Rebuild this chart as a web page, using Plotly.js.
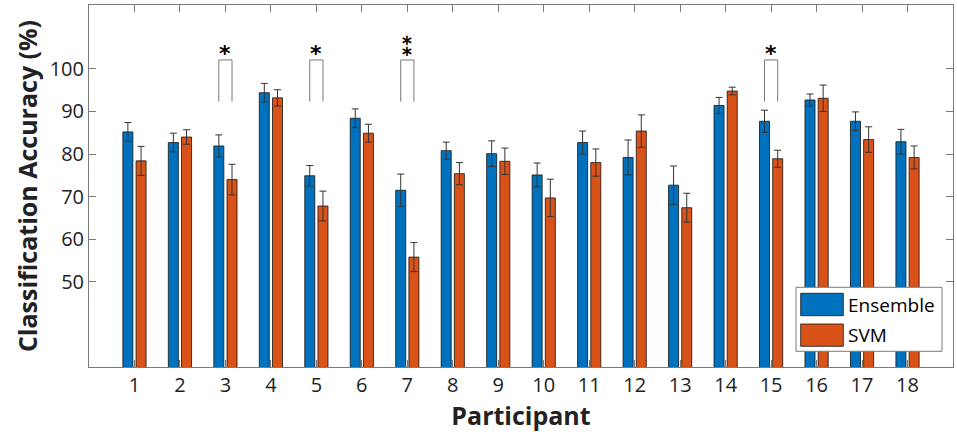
<!DOCTYPE html>
<html>
<head>
<meta charset="utf-8">
<script src="https://cdn.plot.ly/plotly-3.0.1.min.js"></script>
<style>html,body{margin:0;padding:0;background:#fff;}#chart{width:957px;height:444px;}</style>
</head>
<body>
<div id="chart"></div>
<script>
var participants = [1,2,3,4,5,6,7,8,9,10,11,12,13,14,15,16,17,18];
var ensembleAcc = [85.2,82.7,81.9,94.4,74.9,88.4,71.5,80.8,80.1,75.1,82.7,79.2,72.7,91.4,87.7,92.7,87.7,82.9];
var ensembleErr = [2.2,2.2,2.6,2.2,2.4,2.2,3.8,2.0,3.0,2.8,2.7,4.1,4.5,1.9,2.6,1.4,2.2,2.9];
var svmAcc = [78.4,84.0,74.0,93.2,67.8,84.9,55.8,75.4,78.3,69.7,78.0,85.4,67.4,94.8,78.9,93.1,83.4,79.2];
var svmErr = [3.4,1.7,3.6,1.9,3.5,2.1,3.4,2.6,3.1,4.4,3.2,3.8,3.4,0.9,2.0,3.1,3.0,2.7];
var yTicks = [50,60,70,80,90,100];
var sigParticipants = [3,5,7,15];
var sigMarks = ['*','*','\u2051','*'];

var BLUE = '#0072BD', ORANGE = '#D95319', AXIS = '#7a7a7a';
var bargap = 0.42;
var half = (1 - bargap) / 4; // center offset of each bar in category units

var traces = [
  {type:'bar', name:'Ensemble', x:participants, y:ensembleAcc,
   marker:{color:BLUE, line:{color:'rgba(20,20,20,0.8)', width:1}},
   error_y:{type:'data', array:ensembleErr, visible:true, color:'#333', thickness:1, width:3.5}},
  {type:'bar', name:'SVM', x:participants, y:svmAcc,
   marker:{color:ORANGE, line:{color:'rgba(20,20,20,0.8)', width:1}},
   error_y:{type:'data', array:svmErr, visible:true, color:'#333', thickness:1, width:3.5}}
];

var shapes = [], annotations = [];
var brTop = 102.1, brBot = 92.3;
sigParticipants.forEach(function(p, i){
  shapes.push({type:'path', xref:'x', yref:'y',
    path:'M '+(p-half)+' '+brBot+' L '+(p-half)+' '+brTop+' L '+(p+half)+' '+brTop+' L '+(p+half)+' '+brBot,
    line:{color:AXIS, width:1}});
  var dbl = sigMarks[i] !== '*';
  annotations.push({xref:'x', yref:'y', x:p, y:102.6, text:'<b>'+sigMarks[i]+'</b>', showarrow:false,
    yanchor:'bottom', font:{family:'DejaVu Sans', size:dbl ? 24 : 22, color:'#000'}, yshift:dbl ? -6 : -10});
});

// custom legend (paper coords)
var W = 957, H = 444, L = 89, R = 4, T = 5, B = 77;
function px(x){return (x - L)/(W - L - R);}
function py(y){return 1 - (y - T)/(H - T - B);}
shapes.push({type:'rect', xref:'paper', yref:'paper', x0:px(796), x1:px(942), y0:py(351.3), y1:py(287.3),
  fillcolor:'#fff', line:{color:AXIS, width:1}, layer:'above'});
var legItems = [{name:'Ensemble', color:BLUE, y0:293.3, y1:315.7},{name:'SVM', color:ORANGE, y0:324, y1:346.3}];
legItems.forEach(function(it){
  shapes.push({type:'rect', xref:'paper', yref:'paper', x0:px(800.7), x1:px(843.3), y0:py(it.y1), y1:py(it.y0),
    fillcolor:it.color, line:{color:'rgba(20,20,20,0.8)', width:1}, layer:'above'});
  annotations.push({xref:'paper', yref:'paper', x:px(846), y:py((it.y0+it.y1)/2), xanchor:'left', yanchor:'middle',
    text:it.name, showarrow:false, font:{family:'Open Sans', size:19, color:'#000'}});
});

var layout = {
  width:W, height:H,
  margin:{l:L, r:R, t:T, b:B, pad:0},
  paper_bgcolor:'#fff', plot_bgcolor:'#fff',
  barmode:'group', bargap:bargap, bargroupgap:0.24,
  showlegend:false,
  font:{family:'Open Sans', color:'#000'},
  xaxis:{range:[0,19], tickvals:participants, ticktext:participants.map(String),
    ticks:'inside', ticklen:7, tickcolor:AXIS, tickwidth:1, showline:true, linecolor:AXIS, linewidth:1,
    mirror:'ticks', showgrid:false, zeroline:false, tickfont:{size:20, family:'Open Sans', color:'#222'},
    title:{text:'Participant', font:{size:25, family:'Open Sans', weight:'bold', color:'#222'}, standoff:10}},
  yaxis:{range:[30,115], tickvals:yTicks, ticks:'inside', ticklen:7, tickcolor:AXIS, tickwidth:1,
    showline:true, linecolor:AXIS, linewidth:1, mirror:'ticks', showgrid:false, zeroline:false,
    tickfont:{size:20, family:'Open Sans', color:'#222'},
    title:{text:'Classification Accuracy (%)', font:{size:25, family:'Open Sans', weight:'bold', color:'#222'}, standoff:4}},
  shapes:shapes, annotations:annotations
};

Plotly.newPlot('chart', traces, layout, {staticPlot:true, displayModeBar:false});
</script>
</body>
</html>
